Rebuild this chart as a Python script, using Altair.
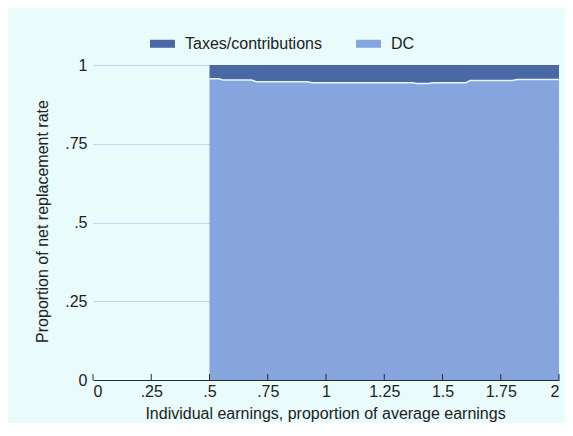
import altair as alt
import pandas as pd

# ---- data ----
earnings = [0.50, 0.54, 0.56, 0.68, 0.70, 0.92, 0.94, 1.37, 1.39, 1.44, 1.46, 1.60, 1.62, 1.80, 1.82, 2.00]
dc_share = [0.956, 0.956, 0.952, 0.952, 0.947, 0.947, 0.944, 0.944, 0.941, 0.941, 0.944, 0.944, 0.951, 0.951, 0.954, 0.954]
tax_share = [0.044, 0.044, 0.048, 0.048, 0.053, 0.053, 0.056, 0.056, 0.059, 0.059, 0.056, 0.056, 0.049, 0.049, 0.046, 0.046]

series_names = ["Taxes/contributions", "DC"]
series_colors = ["#4a69a4", "#86a5de"]

x_ticks = [0, 0.25, 0.5, 0.75, 1, 1.25, 1.5, 1.75, 2]
x_tick_labels = ["0", ".25", ".5", ".75", "1", "1.25", "1.5", "1.75", "2"]
y_ticks = [0, 0.25, 0.5, 0.75, 1]
y_tick_labels = ["0", ".25", ".5", ".75", "1"]

FONT = "Liberation Sans Narrow, Liberation Sans, Arial, sans-serif"
FS = 16
BG = "#e9fbfb"


def label_expr(vals, labels):
    parts = " : ".join(f"datum.value == {v} ? '{l}'" for v, l in zip(vals, labels))
    return parts + " : ''"


rows = []
for x, d, t in zip(earnings, dc_share, tax_share):
    rows.append({"earn": x, "series": "DC", "value": d, "ord": 0})
    rows.append({"earn": x, "series": "Taxes/contributions", "value": t, "ord": 1})
df = pd.DataFrame(rows)
line_df = pd.DataFrame({"earn": earnings, "dc": dc_share})
tick_df = pd.DataFrame({"t": x_ticks})

x_scale = alt.Scale(domain=[0, 2], nice=False, zero=False)
y_scale = alt.Scale(domain=[0, 1], nice=False)

legend_symbol = "M-1,-0.32h2v0.64h-2z"

area = alt.Chart(df).mark_area(interpolate="linear", opacity=1).encode(
    x=alt.X("earn:Q", scale=x_scale,
            axis=alt.Axis(values=x_ticks, labelExpr=label_expr(x_ticks, x_tick_labels),
                          title="Individual earnings, proportion of average earnings",
                          grid=False, ticks=False, domain=True, domainColor="#2a2a2a",
                          domainWidth=1, labelPadding=3, labelFont=FONT, labelFontSize=FS,
                          labelColor="#222222", titleFont=FONT, titleFontSize=FS,
                          titleFontWeight="normal", titleColor="#222222",
                          titleBaseline="alphabetic", titleY=38, titleX=232)),
    y=alt.Y("value:Q", stack="zero", scale=y_scale,
            axis=alt.Axis(values=y_ticks, labelExpr=label_expr(y_ticks, y_tick_labels),
                          title="Proportion of net replacement rate",
                          grid=True, gridColor="#bcd6ea", gridWidth=1, ticks=False, domain=False,
                          labelPadding=6, labelFont=FONT, labelFontSize=FS, labelColor="#222222",
                          titleFont=FONT, titleFontSize=FS, titleFontWeight="normal",
                          titleColor="#222222", titleAngle=270, titleBaseline="middle",
                          titleAlign="center", titleX=-51, titleY=156)),
    color=alt.Color("series:N", scale=alt.Scale(domain=series_names, range=series_colors),
                    legend=alt.Legend(title=None, orient="none", legendX=57, legendY=-34,
                                      direction="horizontal", symbolType=legend_symbol,
                                      symbolSize=625, symbolStrokeWidth=0, symbolOpacity=1,
                                      labelFont=FONT, labelFontSize=FS, labelColor="#222222",
                                      labelOffset=10, columnPadding=34)),
    order=alt.Order("ord:Q", sort="ascending"),
)

boundary = alt.Chart(line_df).mark_line(color="#e6f7fc", strokeWidth=1.5).encode(
    x=alt.X("earn:Q", scale=x_scale),
    y=alt.Y("dc:Q", scale=y_scale),
)

ticks = alt.Chart(tick_df).mark_rule(color="#2a2a2a", strokeWidth=1).encode(
    x=alt.X("t:Q", scale=x_scale),
    y=alt.value(315),
    y2=alt.value(309),
)

chart = alt.layer(area, boundary, ticks).properties(
    width=466, height=315,
    autosize=alt.AutoSizeParams(type="none"),
    padding={"left": 85, "top": 57, "right": 6, "bottom": 43},
    background=BG,
).configure_view(fill=BG, stroke=None)

chart.save("out.html", embed_options={"renderer": "svg", "actions": False})
